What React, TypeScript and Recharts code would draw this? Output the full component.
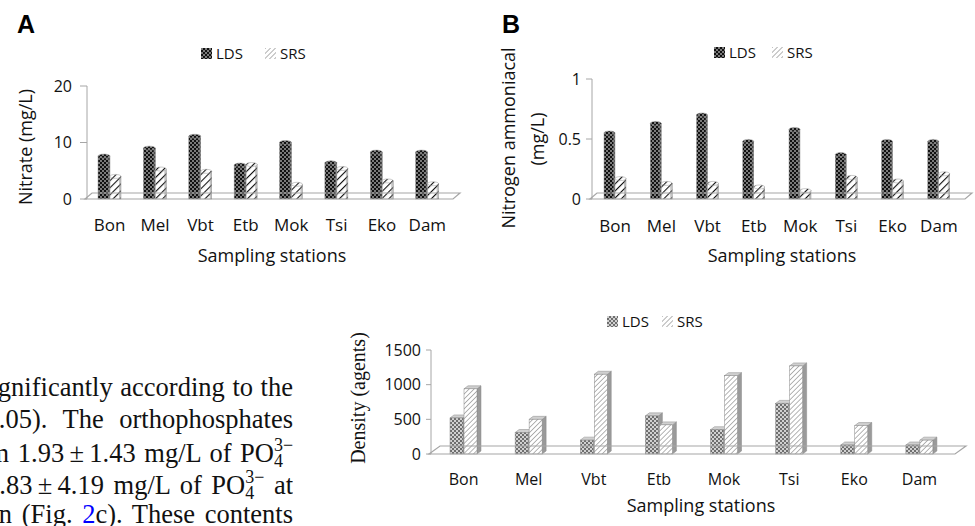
import React from 'react';
import { BarChart, Bar, XAxis, YAxis, ReferenceLine } from 'recharts';

const STATIONS = ['Bon', 'Mel', 'Vbt', 'Etb', 'Mok', 'Tsi', 'Eko', 'Dam'];
const SERIES = ['LDS', 'SRS'];

// panel A – nitrate (mg/L)
const NITRATE_LDS = [7.6, 9.0, 11.1, 6.0, 10.0, 6.4, 8.3, 8.3];
const NITRATE_SRS = [4.0, 5.3, 4.9, 6.1, 2.6, 5.4, 3.2, 2.7];
const NITRATE_TICKS = [0, 10, 20];

// panel B – nitrogen ammoniacal (mg/L)
const AMMONIA_LDS = [0.55, 0.63, 0.7, 0.48, 0.58, 0.37, 0.48, 0.48];
const AMMONIA_SRS = [0.17, 0.13, 0.13, 0.1, 0.07, 0.18, 0.15, 0.21];
const AMMONIA_TICKS = [0, 0.5, 1];

// panel C – density (agents)
const DENSITY_LDS = [520, 310, 200, 550, 350, 730, 130, 130];
const DENSITY_SRS = [940, 500, 1150, 420, 1130, 1270, 410, 200];
const DENSITY_TICKS = [0, 500, 1000, 1500];

const build = (lds: number[], srs: number[]) =>
  STATIONS.map((station, i) => ({ station, LDS: lds[i], SRS: srs[i] }));

const nitrateData = build(NITRATE_LDS, NITRATE_SRS);
const ammoniaData = build(AMMONIA_LDS, AMMONIA_SRS);
const densityData = build(DENSITY_LDS, DENSITY_SRS);

const SANS = '"Open Sans", sans-serif';
const SERIF = '"Liberation Serif", "Times New Roman", serif';
const AXIS = '#a6a6a6';

const Patterns = ({ p }: { p: string }) => (
  <defs>
    <pattern id={`${p}dark`} width={4} height={4} patternUnits="userSpaceOnUse">
      <rect width={4} height={4} fill="#111" />
      <circle cx={1} cy={1} r={0.8} fill="#fff" />
      <circle cx={3} cy={3} r={0.8} fill="#fff" />
    </pattern>
    <pattern id={`${p}stripe`} width={5} height={5} patternUnits="userSpaceOnUse" patternTransform="rotate(45)">
      <rect width={5} height={5} fill="#fff" />
      <line x1={0} y1={0} x2={0} y2={5} stroke="#111" strokeWidth={2.2} />
    </pattern>
    <pattern id={`${p}light`} width={4} height={4} patternUnits="userSpaceOnUse">
      <rect width={4} height={4} fill="#6e6e6e" />
      <circle cx={1} cy={1} r={1} fill="#f2f2f2" />
      <circle cx={3} cy={3} r={1} fill="#f2f2f2" />
    </pattern>
    <pattern id={`${p}thin`} width={3.5} height={3.5} patternUnits="userSpaceOnUse" patternTransform="rotate(45)">
      <rect width={3.5} height={3.5} fill="#fff" />
      <line x1={0} y1={0} x2={0} y2={3.5} stroke="#777" strokeWidth={1.1} />
    </pattern>
  </defs>
);

const cylinder = (fill: string) => (props: any) => {
  const { x, y, width: w, height: h } = props;
  if (!h || h <= 0) return <g />;
  return (
    <g>
      <rect x={x} y={y} width={w} height={h} fill={fill} stroke="#999" strokeWidth={0.5} />
      <rect x={x + w - 2} y={y} width={2} height={h} fill="#888" opacity={0.5} />
      <ellipse cx={x + w / 2} cy={y} rx={w / 2} ry={2} fill={fill} stroke="#999" strokeWidth={0.5} />
    </g>
  );
};

const box = (fill: string) => (props: any) => {
  const { x, y, width: w, height: h } = props;
  if (!h || h <= 0) return <g />;
  const d = 4;
  const e = 3;
  return (
    <g>
      <polygon
        points={`${x + w},${y} ${x + w + d},${y - e} ${x + w + d},${y + h - e} ${x + w},${y + h}`}
        fill="#9a9a9a"
        stroke="#888"
        strokeWidth={0.5}
      />
      <polygon
        points={`${x},${y} ${x + d},${y - e} ${x + w + d},${y - e} ${x + w},${y}`}
        fill="#d0d0d0"
        stroke="#888"
        strokeWidth={0.5}
      />
      <rect x={x} y={y} width={w} height={h} fill={fill} stroke="#888" strokeWidth={0.5} />
    </g>
  );
};

const floor = (dx: number, dy: number) => (props: any) => {
  const { x1, y1, x2 } = props;
  return (
    <polygon
      points={`${x1 - 2},${y1} ${x1 - 2 + dx},${y1 - dy} ${x2 + 3 + dx},${y1 - dy} ${x2 + 3},${y1}`}
      fill="none"
      stroke={AXIS}
      strokeWidth={1.2}
    />
  );
};

// legend drawn as html so it does not eat into the plot area
const Key = ({ x, y, fills, gap }: { x: number; y: number; fills: string[]; gap: number }) => (
  <div
    style={{
      position: 'absolute',
      left: x,
      top: y,
      display: 'flex',
      alignItems: 'center',
      fontFamily: SANS,
      fontSize: 15,
      lineHeight: '18px',
      color: '#111',
    }}
  >
    {SERIES.map((name, i) => (
      <div key={name} style={{ display: 'flex', alignItems: 'center', marginRight: i === 0 ? gap : 0 }}>
        <svg width={11} height={11} style={{ marginRight: 4 }}>
          <rect width={11} height={11} fill={fills[i]} />
        </svg>
        <span>{name}</span>
      </div>
    ))}
  </div>
);

const tickStyle = (size: number) => ({ fill: '#111', fontSize: size, fontFamily: SANS });

const Rotated = ({ x, y, children, style }: any) => (
  <div
    style={{
      position: 'absolute',
      left: x,
      top: y,
      transform: 'translate(-50%, -50%) rotate(-90deg)',
      whiteSpace: 'nowrap',
      ...style,
    }}
  >
    {children}
  </div>
);

const Centered = ({ x, y, children, style }: any) => (
  <div
    style={{
      position: 'absolute',
      left: x,
      top: y,
      transform: 'translate(-50%, -50%)',
      whiteSpace: 'nowrap',
      ...style,
    }}
  >
    {children}
  </div>
);

// PO4 3- with stacked super/subscript
const Ion = () => (
  <>
    PO
    <span style={{ position: 'relative', display: 'inline-block', width: 19, height: '1em' }}>
      <span style={{ position: 'absolute', left: 0, top: 1, fontSize: 18, lineHeight: 1 }}>3−</span>
      <span style={{ position: 'absolute', left: 0, top: 17, fontSize: 18, lineHeight: 1 }}>4</span>
    </span>
  </>
);

const TEXT_LINES: { content: React.ReactNode; ws: number }[] = [
  { content: <>significantly according to the</>, ws: 1 },
  { content: <>(p &lt; 0.05). The orthophosphates</>, ws: 9 },
  { content: <>from 1.93{'\u2009'}±{'\u2009'}1.43 mg/L of <Ion /></>, ws: 2 },
  { content: <>to 8.83{'\u2009'}±{'\u2009'}4.19 mg/L of <Ion /> at</>, ws: 3 },
  {
    content: (
      <>
        station (Fig. <span style={{ color: '#0000ff' }}>2</span>c). These contents
      </>
    ),
    ws: 3,
  },
];

const App: React.FC = () => {
  const sans = { fontFamily: SANS, color: '#111' };
  return (
    <div style={{ position: 'absolute', left: 0, top: 0, width: 975, height: 526, background: '#fff', overflow: 'hidden' }}>
      {/* panel A */}
      <div style={{ position: 'absolute', left: 0, top: 0 }}>
        <BarChart width={480} height={270} data={nitrateData} margin={{ top: 86, right: 30, bottom: 0, left: 0 }} barGap={0}>
          <Patterns p="a" />
          <XAxis dataKey="station" axisLine={false} tickLine={false} tickSize={0} tickMargin={20} height={71} tick={tickStyle(17)} interval={0} />
          <YAxis domain={[0, 20]} ticks={NITRATE_TICKS} width={87} tickSize={7} tickMargin={8} stroke={AXIS} tick={tickStyle(16)} />
          <ReferenceLine y={0} shape={floor(7, 6)} />
          <Bar dataKey="LDS" barSize={12} isAnimationActive={false} shape={cylinder('url(#adark)')} />
          <Bar dataKey="SRS" barSize={11} isAnimationActive={false} shape={cylinder('url(#astripe)')} />
        </BarChart>
        <Key x={201} y={44} fills={['url(#adark)', 'url(#athin)']} gap={22} />
        <div style={{ position: 'absolute', left: 17, top: 12, fontFamily: '"Liberation Sans", Arial, sans-serif', fontWeight: 700, fontSize: 25, lineHeight: 1 }}>A</div>
        <Rotated x={25} y={147} style={{ ...sans, fontSize: 18 }}>Nitrate (mg/L)</Rotated>
        <Centered x={272} y={255} style={{ ...sans, fontSize: 18 }}>Sampling stations</Centered>
      </div>

      {/* panel B */}
      <div style={{ position: 'absolute', left: 480, top: 0 }}>
        <BarChart width={495} height={270} data={ammoniaData} margin={{ top: 79, right: 13, bottom: 0, left: 0 }} barGap={0}>
          <Patterns p="b" />
          <XAxis dataKey="station" axisLine={false} tickLine={false} tickSize={0} tickMargin={21} height={71} tick={tickStyle(17)} interval={0} />
          <YAxis domain={[0, 1]} ticks={AMMONIA_TICKS} width={112} tickSize={6} tickMargin={5} stroke={AXIS} tick={tickStyle(16)} />
          <ReferenceLine y={0} shape={floor(7, 6)} />
          <Bar dataKey="LDS" barSize={11} isAnimationActive={false} shape={cylinder('url(#bdark)')} />
          <Bar dataKey="SRS" barSize={11} isAnimationActive={false} shape={cylinder('url(#bstripe)')} />
        </BarChart>
        <Key x={234} y={43} fills={['url(#bdark)', 'url(#bthin)']} gap={16} />
        <div style={{ position: 'absolute', left: 22, top: 12, fontFamily: '"Liberation Sans", Arial, sans-serif', fontWeight: 700, fontSize: 25, lineHeight: 1 }}>B</div>
        <Rotated x={28} y={138} style={{ ...sans, fontSize: 18 }}>Nitrogen ammoniacal</Rotated>
        <Rotated x={57} y={139} style={{ ...sans, fontSize: 18 }}>(mg/L)</Rotated>
        <Centered x={302} y={255} style={{ ...sans, fontSize: 18 }}>Sampling stations</Centered>
      </div>

      {/* panel C */}
      <div style={{ position: 'absolute', left: 320, top: 290 }}>
        <BarChart width={655} height={236} data={densityData} margin={{ top: 60, right: 23, bottom: 0, left: 0 }} barGap={1}>
          <Patterns p="c" />
          <XAxis dataKey="station" axisLine={false} tickLine={false} tickSize={0} tickMargin={20} height={72} tick={tickStyle(16)} interval={0} />
          <YAxis domain={[0, 1500]} ticks={DENSITY_TICKS} width={111} tickSize={5} tickMargin={5} stroke={AXIS} tick={tickStyle(16)} />
          <ReferenceLine y={0} shape={floor(11, 8)} />
          <Bar dataKey="LDS" barSize={13} isAnimationActive={false} shape={box('url(#clight)')} />
          <Bar dataKey="SRS" barSize={13} isAnimationActive={false} shape={box('url(#cthin)')} />
        </BarChart>
        <Key x={287} y={22} fills={['url(#clight)', 'url(#cthin)']} gap={13} />
        <Rotated x={38} y={108} style={{ fontFamily: SERIF, fontSize: 20, color: '#111' }}>Density (agents)</Rotated>
        <Centered x={381} y={215} style={{ ...sans, fontSize: 18 }}>Sampling stations</Centered>
      </div>

      {/* clipped body text */}
      <div style={{ position: 'absolute', left: 0, top: 372, width: 293, height: 154, overflow: 'hidden', fontFamily: SERIF, fontSize: 26.5, lineHeight: '31.7px', color: '#111' }}>
        {TEXT_LINES.map((l, i) => (
          <div key={i} style={{ display: 'flex', justifyContent: 'flex-end', whiteSpace: 'nowrap', height: 31.7, wordSpacing: l.ws }}>
            <span>{l.content}</span>
          </div>
        ))}
      </div>
    </div>
  );
};

export default App;
